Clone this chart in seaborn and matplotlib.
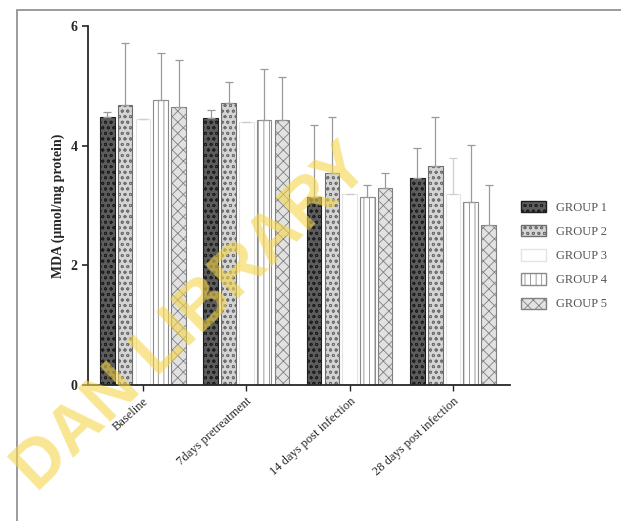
#!/usr/bin/env python3
"""
MDA levels per group over time, grouped bar chart with upper error bars.
"""
import pandas as pd
import seaborn as sns
import matplotlib.pyplot as plt
import matplotlib.patches as mpatches

times = ['Baseline', '7days pretreatment', '14 days post infection', '28 days post infection']
groups = ['GROUP 1', 'GROUP 2', 'GROUP 3', 'GROUP 4', 'GROUP 5']

# means per group, one value per time point
g1 = [4.48, 4.46, 3.14, 3.46]
g2 = [4.68, 4.72, 3.55, 3.66]
g3 = [4.45, 4.40, 3.20, 3.20]
g4 = [4.77, 4.43, 3.14, 3.06]
g5 = [4.65, 4.43, 3.29, 2.68]

# upper error (SD)
e1 = [0.08, 0.14, 1.20, 0.50]
e2 = [1.04, 0.35, 0.93, 0.82]
e3 = [0.00, 0.00, 0.00, 0.60]
e4 = [0.78, 0.85, 0.20, 0.95]
e5 = [0.78, 0.72, 0.25, 0.66]

means = [g1, g2, g3, g4, g5]
errs = [e1, e2, e3, e4, e5]

rows = []
for grp, vals in zip(groups, means):
    for t, v in zip(times, vals):
        rows.append({'time': t, 'group': grp, 'mda': v})
df = pd.DataFrame(rows)

styles = [
    dict(facecolor='#5c5c5c', edgecolor='#1e1e1e', hatch='ooo'),
    dict(facecolor='#d4d4d4', edgecolor='#6e6e6e', hatch='ooo'),
    dict(facecolor='white', edgecolor='#e4e4e4', hatch=''),
    dict(facecolor='white', edgecolor='#8a8a8a', hatch='|||'),
    dict(facecolor='#e2e2e2', edgecolor='#808080', hatch='xxx'),
]

sns.set_style('ticks')
plt.rcParams['font.family'] = ['Liberation Serif', 'DejaVu Serif']
plt.rcParams['hatch.linewidth'] = 0.6

fig = plt.figure(figsize=(6.21, 5.21), dpi=100)
ax = fig.add_axes([0.142, 0.261, 0.679, 0.689])

sns.barplot(data=df, x='time', y='mda', hue='group', hue_order=groups,
            order=times, errorbar=None, width=0.86, gap=0.18,
            legend=False, ax=ax)

bar_sets = list(ax.containers)
for i, cont in enumerate(bar_sets):
    st = styles[i]
    xs = []
    for p in cont.patches:
        p.set_facecolor(st['facecolor'])
        p.set_edgecolor(st['edgecolor'])
        p.set_hatch(st['hatch'])
        p.set_linewidth(0.8)
        xs.append(p.get_x() + p.get_width() / 2)
    ecol = '#9a9a9a' if i != 2 else '#cfcfcf'
    ax.errorbar(xs, means[i], yerr=[[0] * len(xs), errs[i]], fmt='none',
                ecolor=ecol, elinewidth=0.9, capsize=3, capthick=0.9)

ax.set_ylim(0, 6)
ax.set_xlim(-0.53, 3.55)
ax.set_yticks([0, 2, 4, 6])
ax.set_ylabel('MDA (μmol/mg protein)', fontsize=10, fontweight='bold')
ax.set_xlabel('')
ax.tick_params(axis='y', labelsize=10, width=1.2, length=4)
ax.tick_params(axis='x', labelsize=9, width=1.0, length=4)
for lab in ax.get_yticklabels():
    lab.set_fontweight('bold')
plt.setp(ax.get_xticklabels(), rotation=42, ha='right', rotation_mode='anchor')
for s in ['left', 'bottom']:
    ax.spines[s].set_linewidth(1.3)
sns.despine(ax=ax)

handles = [mpatches.Patch(label=g, **st) for g, st in zip(groups, styles)]
ax.legend(handles=handles, loc='center left', bbox_to_anchor=(1.0, 0.36),
          frameon=False, fontsize=9, handlelength=2.0, handleheight=1.0,
          labelspacing=0.9, handletextpad=0.8, labelcolor='#555555')

# library watermark and scan frame
fig.text(0.31, 0.39, 'DAN LIBRARY', fontsize=49, color='#f5d54a', alpha=0.6,
         rotation=44, ha='center', va='center', fontweight='bold',
         family='Liberation Sans')
fig.add_artist(mpatches.Rectangle((0.028, -0.01), 1.0, 0.99, transform=fig.transFigure,
                                  fill=False, edgecolor='#8a8a8a', linewidth=1.2))

plt.savefig('out.png', dpi=100)
plt.close()
